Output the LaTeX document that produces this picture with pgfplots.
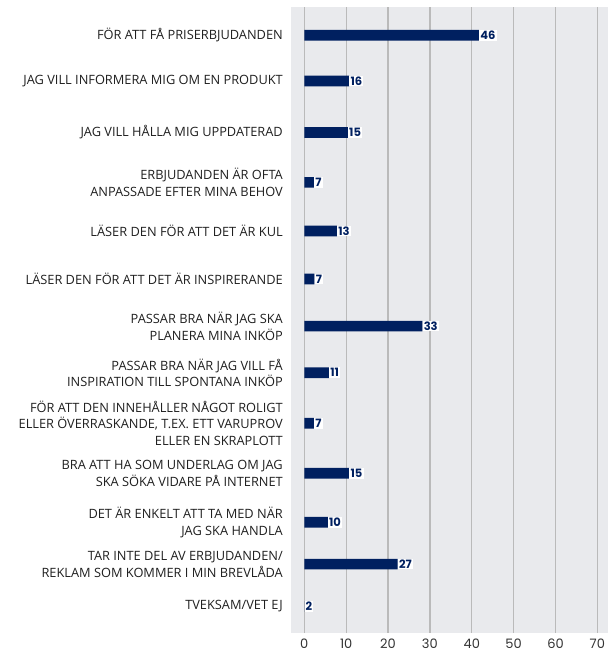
\documentclass[border=0pt]{standalone}
\usepackage{pgfplots}
\pgfplotsset{compat=1.18}
\usepackage{fontspec}
\setmainfont{Open Sans}
\newfontfamily\numfont{Poppins}
\definecolor{navy}{HTML}{002060}
\definecolor{panel}{HTML}{E9EAED}
\definecolor{gridc}{HTML}{BABABA}

\begin{document}
\begin{tikzpicture}[x=1pt,y=1pt]
\useasboundingbox (0,0) rectangle (608,662);
\begin{axis}[
  at={(291pt,29pt)}, anchor=south west,
  width=317pt, height=626pt, scale only axis,
  xmin=-3.18, xmax=72.55,
  ymin=-0.595, ymax=12.557, y dir=reverse,
  axis background/.style={fill=panel},
  axis line style={draw=none},
  xtick={0,10,...,70},
  xmajorgrids, grid style={gridc, line width=1.3pt},
  major tick length=0pt,
  ytick=data,
  yticklabels={
    {FÖR ATT FÅ PRISERBJUDANDEN},
    {JAG VILL INFORMERA MIG OM EN PRODUKT},
    {JAG VILL HÅLLA MIG UPPDATERAD},
    {ERBJUDANDEN ÄR OFTA\\ANPASSADE EFTER MINA BEHOV},
    {LÄSER DEN FÖR ATT DET ÄR KUL},
    {LÄSER DEN FÖR ATT DET ÄR INSPIRERANDE},
    {PASSAR BRA NÄR JAG SKA\\PLANERA MINA INKÖP},
    {PASSAR BRA NÄR JAG VILL FÅ\\INSPIRATION TILL SPONTANA INKÖP},
    {FÖR ATT DEN INNEHÅLLER NÅGOT ROLIGT\\ELLER ÖVERRASKANDE, T.EX. ETT VARUPROV\\ELLER EN SKRAPLOTT},
    {BRA ATT HA SOM UNDERLAG OM JAG\\SKA SÖKA VIDARE PÅ INTERNET},
    {DET ÄR ENKELT ATT TA MED NÄR\\JAG SKA HANDLA},
    {TAR INTE DEL AV ERBJUDANDEN/\\REKLAM SOM KOMMER I MIN BREVLÅDA},
    {TVEKSAM/VET EJ}},
  yticklabel style={align=right, font=\fontsize{12.8}{16.8}\selectfont,
    text=black!88, inner sep=0pt, xshift=-8pt},
  xticklabel style={font=\numfont\fontsize{13}{15}\selectfont,
    text=black!80, inner sep=0pt, yshift=-6pt},
  /pgf/number format/assume math mode=true,
  xbar, bar width=10.7pt, bar shift=0pt,
  point meta=explicit symbolic,
  nodes near coords,
  nodes near coords style={anchor=west, fill=white, text=navy,
    font=\numfont\bfseries\fontsize{11.5}{12}\selectfont,
    inner xsep=1.2pt, inner ysep=0pt, minimum height=10.7pt},
  clip=false,
]
\addplot[fill=navy, draw=none] coordinates {
  (41.7,0)     [46]
  (10.7,0.96)  [16]
  (10.4,2.04)  [15]
  (2.3,3.09)   [7]
  (7.8,4.11)   [13]
  (2.4,5.12)   [7]
  (28.2,6.11)  [33]
  (5.9,7.09)   [11]
  (2.3,8.15)   [7]
  (10.7,9.2)   [15]
  (5.6,10.23)  [10]
  (22.3,11.11) [27]
  (0,12.0)     [2]
};
\end{axis}
\end{tikzpicture}
\end{document}
